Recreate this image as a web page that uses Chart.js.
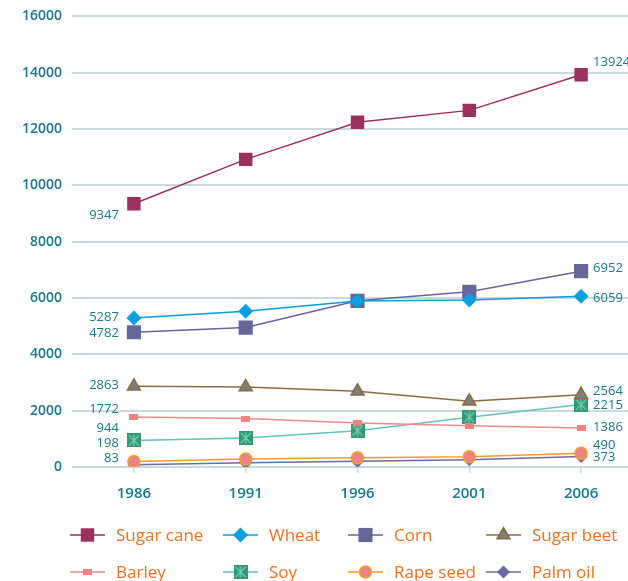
<!DOCTYPE html>
<html>
<head>
<meta charset="utf-8">
<script src="https://cdn.jsdelivr.net/npm/chart.js"></script>
<style>
  html, body { margin: 0; padding: 0; background: #fff; overflow: hidden; }
  #chart { display: block; }
</style>
</head>
<body>
<canvas id="chart" width="647" height="581"></canvas>
<script>
// data
const years = ['1986', '1991', '1996', '2001', '2006'];
const seriesNames = ['Sugar cane', 'Wheat', 'Corn', 'Sugar beet', 'Barley', 'Soy', 'Rape seed', 'Palm oil'];
const sugarCane = [9347, 10920, 12240, 12660, 13924];
const wheat = [5287, 5530, 5890, 5930, 6059];
const corn = [4782, 4950, 5900, 6220, 6952];
const sugarBeet = [2863, 2840, 2690, 2330, 2564];
const barley = [1772, 1720, 1560, 1460, 1386];
const soy = [944, 1030, 1290, 1770, 2215];
const rapeSeed = [198, 280, 330, 365, 490];
const palmOil = [83, 150, 200, 260, 373];
const yTicks = [0, 2000, 4000, 6000, 8000, 10000, 12000, 14000, 16000];

const teal = '#17798a';
const FONT = '"Open Sans", sans-serif';

// soy marker: green square with a light cross
function soyMarker() {
  const c = document.createElement('canvas');
  c.width = 14; c.height = 14;
  const g = c.getContext('2d');
  g.fillStyle = '#35986c';
  g.fillRect(0, 0, 14, 14);
  g.strokeStyle = '#6fd0c6';
  g.lineWidth = 1.2;
  g.beginPath();
  g.moveTo(2, 2); g.lineTo(12, 12);
  g.moveTo(12, 2); g.lineTo(2, 12);
  g.moveTo(7, 1); g.lineTo(7, 13);
  g.stroke();
  return c;
}

function barleyMarker() {
  const c = document.createElement('canvas');
  c.width = 9; c.height = 6;
  const g = c.getContext('2d');
  g.fillStyle = '#f08282';
  g.fillRect(0, 0, 9, 6);
  return c;
}

const styles = [
  { line: '#9b2f60', fill: '#9b2f60', border: '#9b2f60', style: 'rect', r: 9.5 },
  { line: '#0a9ddc', fill: '#0aa0e0', border: '#0aa0e0', style: 'rectRot', r: 7.5 },
  { line: '#66669a', fill: '#66669a', border: '#66669a', style: 'rect', r: 10 },
  { line: '#8c6c3c', fill: '#7e7e7e', border: '#8c6c3c', style: 'triangle', r: 7.5 },
  { line: '#f08a8a', fill: '#f08282', border: '#f08282', style: barleyMarker(), r: 4 },
  { line: '#62c4be', fill: '#35986c', border: '#35986c', style: soyMarker(), r: 7 },
  { line: '#f79a2a', fill: '#ec8484', border: '#f7a030', style: 'circle', r: 6 },
  { line: '#6c6ca0', fill: '#6c6ca0', border: '#6c6ca0', style: 'rectRot', r: 6.5 }
];

// label offsets for the end values (first point, last point)
const labelDy = [
  [12, -12], [-1, 2], [1, -3], [-1, -3], [-8, -1], [-12, 1], [-18, -8], [-6, 1]
];

const values = [sugarCane, wheat, corn, sugarBeet, barley, soy, rapeSeed, palmOil];

const datasets = values.map((v, i) => ({
  label: seriesNames[i],
  data: v,
  borderColor: styles[i].line,
  borderWidth: 1.5,
  backgroundColor: styles[i].fill,
  pointStyle: styles[i].style,
  pointRadius: styles[i].r,
  pointHoverRadius: styles[i].r,
  pointBackgroundColor: styles[i].fill,
  pointBorderColor: styles[i].border,
  pointBorderWidth: i === 3 || i === 6 ? 1.5 : 0,
  tension: 0,
  fill: false
}));

const endLabels = {
  id: 'endLabels',
  afterDatasetsDraw(chart) {
    const ctx = chart.ctx;
    ctx.save();
    ctx.font = '500 13px ' + FONT;
    ctx.fillStyle = teal;
    ctx.textBaseline = 'middle';
    chart.data.datasets.forEach((ds, i) => {
      const pts = chart.getDatasetMeta(i).data;
      const first = pts[0], last = pts[pts.length - 1];
      ctx.textAlign = 'right';
      ctx.fillText(String(ds.data[0]), first.x - 15, first.y + labelDy[i][0]);
      ctx.textAlign = 'left';
      ctx.fillText(String(ds.data[ds.data.length - 1]), last.x + 12, last.y + labelDy[i][1]);
    });
    ctx.restore();
  }
};

const gridLegend = {
  id: 'gridLegend',
  afterDraw(chart) {
    const ctx = chart.ctx;
    const cols = [70, 223, 348, 486];
    const rows = [535, 572];
    ctx.save();
    chart.data.datasets.forEach((ds, i) => {
      const x = cols[i % 4], y = rows[Math.floor(i / 4)];
      ctx.strokeStyle = ds.borderColor;
      ctx.lineWidth = 1.5;
      ctx.beginPath();
      ctx.moveTo(x, y); ctx.lineTo(x + 35, y);
      ctx.stroke();
      ctx.fillStyle = ds.pointBackgroundColor;
      ctx.strokeStyle = ds.pointBorderColor;
      ctx.lineWidth = ds.pointBorderWidth;
      Chart.helpers.drawPoint(ctx, {
        pointStyle: ds.pointStyle, rotation: 0,
        radius: ds.pointRadius,
        borderWidth: ds.pointBorderWidth
      }, x + 17.5, y);
      ctx.fillStyle = '#ee7020';
      ctx.font = '500 17px ' + FONT;
      ctx.textAlign = 'left';
      ctx.textBaseline = 'middle';
      ctx.fillText(ds.label, x + 46, y + 1);
    });
    ctx.restore();
  }
};

new Chart(document.getElementById('chart'), {
  type: 'line',
  data: { labels: years, datasets: datasets },
  plugins: [endLabels, gridLegend],
  options: {
    responsive: false,
    animation: false,
    layout: { padding: { left: 12, right: 3, top: -2, bottom: 66 } },
    plugins: { legend: { display: false }, tooltip: { enabled: false } },
    scales: {
      x: {
        offset: true,
        grid: { display: true, drawOnChartArea: false, drawTicks: true, tickLength: 6, color: '#c9d9e0', lineWidth: 1.5 },
        border: { display: false },
        ticks: { color: teal, font: { family: FONT, size: 15, weight: '600' }, padding: 12 }
      },
      y: {
        min: 0,
        max: 16000,
        afterBuildTicks(axis) { axis.ticks = yTicks.map(v => ({ value: v })); },
        grid: { color: '#c9d9e0', lineWidth: 2, tickLength: 6 },
        border: { display: false },
        ticks: {
          color: teal, font: { family: FONT, size: 14, weight: '600', lineHeight: 0.9 }, padding: 10,
          callback: v => String(v)
        }
      }
    }
  }
});
</script>
</body>
</html>
